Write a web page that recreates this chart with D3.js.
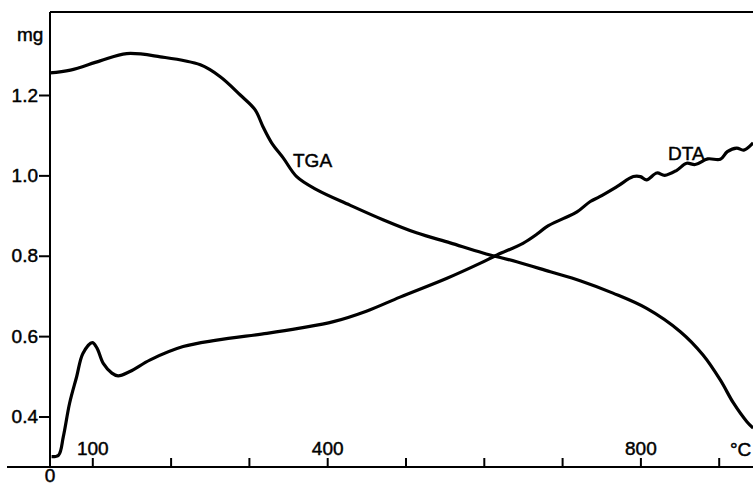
<!DOCTYPE html>
<html lang="en">
<head>
    <meta charset="UTF-8">
    <title>TGA / DTA</title>
    <script src="https://cdn.jsdelivr.net/npm/d3@7"></script>
    <style>
        body { margin: 0; background: #fff; }
        svg { display: block; }
        text { font-family: "Liberation Sans", Arial, sans-serif; font-size: 19px; fill: #000; stroke: #000; stroke-width: 0.45px; }
        .domain, .tick line { stroke: #000; stroke-width: 2; }
    </style>
</head>
<body>
    <div id="chart"></div>

    <script>
        // TGA curve (temperature in °C, mass in mg)
        const tgaTemp = [46, 72, 110, 144, 187, 238, 263, 289, 308, 318, 329, 344, 361, 387, 429,
                         472, 514, 557, 599, 642, 685, 723, 765, 808, 851, 880, 902, 919, 936, 944];
        const tgaMass = [1.255, 1.262, 1.285, 1.303, 1.295, 1.275, 1.246, 1.200, 1.163, 1.121, 1.081,
                         1.043, 0.997, 0.964, 0.926, 0.889, 0.857, 0.832, 0.807, 0.785, 0.760, 0.738,
                         0.707, 0.669, 0.611, 0.553, 0.491, 0.433, 0.387, 0.371];

        // DTA curve, read against the same axis
        const dtaTemp = [48, 57, 63, 71, 80, 88, 100, 106, 114, 125, 133, 148, 174, 216, 259, 323,
                         365, 408, 450, 493, 553, 595, 617, 650, 668, 680, 702, 719, 736, 748,
                         770, 791, 800, 808, 821, 831, 846, 859, 870, 886, 902, 911, 923, 932, 944];
        const dtaSignal = [0.300, 0.304, 0.350, 0.433, 0.499, 0.557, 0.584, 0.570, 0.532, 0.508,
                           0.501, 0.512, 0.541, 0.574, 0.590, 0.607, 0.620, 0.636, 0.662, 0.697,
                           0.744, 0.781, 0.802, 0.831, 0.854, 0.872, 0.893, 0.909, 0.935,
                           0.947, 0.972, 0.997, 0.997, 0.989, 1.006, 1.000, 1.012, 1.030, 1.027,
                           1.041, 1.040, 1.059, 1.068, 1.063, 1.081];

        const yTicks = [0.4, 0.6, 0.8, 1.0, 1.2];
        const xTicks = [100, 200, 300, 400, 500, 600, 700, 800, 900];
        const xLabels = [100, 400, 800];

        const width = 753, height = 485;
        const plotLeft = 50, plotTop = 12, axisY = 467;

        const svg = d3.select('#chart').append('svg')
            .attr('width', width)
            .attr('height', height);

        const x = d3.scaleLinear().domain([100, 800]).range([92.3, 640.4]);
        const y = d3.scaleLinear().domain([0.4, 1.2]).range([416.5, 95]);

        // frame: top line and x baseline
        svg.append('line')
            .attr('x1', plotLeft).attr('x2', width)
            .attr('y1', plotTop).attr('y2', plotTop)
            .attr('stroke', '#000').attr('stroke-width', 2);

        svg.append('line')
            .attr('x1', 7).attr('x2', width)
            .attr('y1', axisY).attr('y2', axisY)
            .attr('stroke', '#000').attr('stroke-width', 2);

        // y axis
        const yAxis = svg.append('g')
            .attr('transform', `translate(${plotLeft},0)`)
            .call(d3.axisLeft(y)
                .tickValues(yTicks)
                .tickSize(11)
                .tickPadding(1)
                .tickFormat(d3.format('.1f')));
        yAxis.select('.domain').attr('d', `M0,${plotTop}V${axisY}`);
        yAxis.selectAll('text').style('font-size', '19px').style('font-family', '"Liberation Sans", Arial, sans-serif');

        // x axis: ticks point up, labels sit above
        const xAxis = svg.append('g')
            .attr('transform', `translate(0,${axisY})`)
            .call(d3.axisTop(x)
                .tickValues(xTicks)
                .tickSize(9)
                .tickPadding(3)
                .tickFormat(d => xLabels.includes(d) ? d : ''));
        xAxis.select('.domain').remove();
        xAxis.selectAll('text').style('font-size', '19px').style('font-family', '"Liberation Sans", Arial, sans-serif');

        svg.append('text')
            .attr('x', plotLeft).attr('y', 482)
            .attr('text-anchor', 'middle')
            .text('0');

        svg.append('text')
            .attr('x', 730).attr('y', 456)
            .text('°C');

        svg.append('text')
            .attr('x', 17).attr('y', 41)
            .text('mg');

        // curves
        const line = d3.line()
            .x(d => x(d[0]))
            .y(d => y(d[1]))
            .curve(d3.curveCatmullRom.alpha(0.5));

        const tga = tgaTemp.map((t, i) => [t, tgaMass[i]]);
        const dta = dtaTemp.map((t, i) => [t, dtaSignal[i]]);

        svg.append('path')
            .datum(tga)
            .attr('d', line)
            .attr('fill', 'none')
            .attr('stroke', '#000')
            .attr('stroke-width', 3.2)
            .attr('stroke-linejoin', 'round');

        svg.append('path')
            .datum(dta)
            .attr('d', line)
            .attr('fill', 'none')
            .attr('stroke', '#000')
            .attr('stroke-width', 3.2)
            .attr('stroke-linejoin', 'round');

        svg.append('text')
            .attr('x', 293).attr('y', 167)
            .text('TGA');

        svg.append('text')
            .attr('x', 668).attr('y', 160)
            .text('DTA');
    </script>
</body>
</html>
